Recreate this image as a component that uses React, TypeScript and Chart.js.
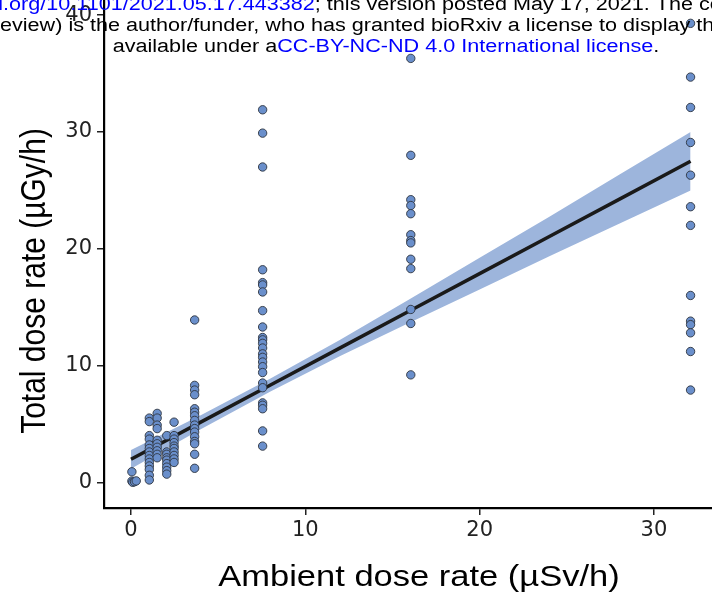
import React, { useEffect, useRef } from "react";
import { Chart, registerables } from "chart.js";

Chart.register(...registerables);

// ---- axis ticks ----
const xTicks = [0, 10, 20, 30];
const yTicks = [0, 10, 20, 30, 40];
const xTitle = "Ambient dose rate (\u00b5Sv/h)";
const yTitle = "Total dose rate (\u00b5Gy/h)";

// ---- observations (ambient dose rate, total dose rate) ----
const nearZeroX = [0.05, 0.05, 0.1, 0.2, 0.3];
const nearZeroY = [0.9, 0.1, 0.0, 0.05, 0.12];

const siteX = [1.05, 1.5, 2.05, 2.47, 3.65, 7.55, 16.05, 32.1];
const site1Y = [5.5, 5.2, 4.0, 3.7, 3.2, 2.9, 2.6, 2.3, 2.0, 1.7, 1.4, 1.1, 0.6, 0.2];
const site2Y = [5.9, 5.5, 4.9, 4.6, 3.6, 3.3, 3.0, 2.7, 2.4, 2.1];
const site3Y = [4.0, 2.6, 2.4, 2.1, 1.9, 1.6, 1.3, 1.0, 0.7];
const site4Y = [5.15, 4.0, 3.7, 3.4, 3.1, 2.9, 2.6, 2.3, 2.0, 1.7];
const site5Y = [13.9, 8.3, 7.9, 7.5, 6.3, 6.0, 5.7, 5.3, 4.9, 4.6, 4.3, 3.9, 3.5, 3.3, 2.4, 1.2];
const site6Y = [31.9, 29.9, 27.0, 18.2, 17.1, 16.9, 16.3, 14.7, 13.3, 12.4, 12.2, 11.9, 11.5, 11.0, 10.7, 10.3, 9.9, 9.4, 8.5, 8.1, 6.8, 6.6, 6.3, 4.4, 3.1];
const site7Y = [36.3, 28.0, 24.2, 23.7, 23.0, 21.2, 20.7, 20.5, 19.1, 18.3, 14.8, 13.6, 9.2];
const site8Y = [39.3, 34.7, 32.1, 29.1, 26.3, 23.6, 22.0, 16.0, 13.8, 13.5, 12.8, 11.2, 7.9];
const siteY = [site1Y, site2Y, site3Y, site4Y, site5Y, site6Y, site7Y, site8Y];

// ---- linear fit and 95% confidence band ----
const fitX = [0, 4, 8, 12, 16, 20, 24, 28, 32.1];
const fitY = [1.97, 5.15, 8.33, 11.51, 14.69, 17.87, 21.05, 24.23, 27.49];
const upperY = [2.77, 5.75, 8.88, 12.21, 15.69, 19.22, 22.75, 26.33, 29.99];
const lowerY = [1.17, 4.55, 7.78, 10.81, 13.69, 16.52, 19.35, 22.13, 24.99];

// ---- bioRxiv header ----
const header1 = [
  ["bioRxiv preprint doi: ", "#000"],
  ["https://doi.org/10.1101/2021.05.17.443382", "#0000ff"],
  ["; this version posted May 17, 2021. The copyright holder for this preprint", "#000"],
];
const header2 = [
  ["(which was not certified by peer review) is the author/funder, who has granted bioRxiv a license to display the preprint in perpetuity. It is made", "#000"],
];
const header3 = [
  ["available under a", "#000"],
  ["CC-BY-NC-ND 4.0 International license", "#0000ff"],
  [".", "#000"],
];
const header1Anchor = "bioRxiv preprint doi: https://doi";
const header2Anchor = "(which was not certified by peer r";

const SX = 1.15;
const SANS = '"Liberation Sans", Arial, Helvetica, sans-serif';

function segWidth(ctx: CanvasRenderingContext2D, segs: string[][]) {
  let w = 0;
  for (const s of segs) w += ctx.measureText(s[0]).width;
  return w;
}

function drawSegments(ctx: CanvasRenderingContext2D, segs: string[][], startX: number, y: number) {
  ctx.save();
  ctx.scale(SX, 1);
  let x = startX;
  ctx.textAlign = "left";
  ctx.textBaseline = "alphabetic";
  for (const s of segs) {
    ctx.fillStyle = s[1];
    ctx.fillText(s[0], x, y);
    x += ctx.measureText(s[0]).width;
  }
  ctx.restore();
}

const overlayPlugin = {
  id: "overlayText",
  afterDraw(chart: any) {
    const ctx: CanvasRenderingContext2D = chart.ctx;
    ctx.save();
    ctx.fillStyle = "#000";
    ctx.font = `30px ${SANS}`;
    ctx.textAlign = "center";
    ctx.textBaseline = "alphabetic";
    // x title
    ctx.save();
    ctx.translate(419, 586);
    ctx.scale(SX, 1);
    ctx.fillText(xTitle, 0, 0);
    ctx.restore();
    // y title
    ctx.save();
    ctx.translate(45, 281);
    ctx.scale(SX, 1);
    ctx.rotate(-Math.PI / 2);
    ctx.fillText(yTitle, 0, 0);
    ctx.restore();
    // header
    ctx.font = `18.8px ${SANS}`;
    drawSegments(ctx, header1, 3 / SX - ctx.measureText(header1Anchor).width, 9.5);
    drawSegments(ctx, header2, 0 / SX - ctx.measureText(header2Anchor).width, 30.5);
    drawSegments(ctx, header3, 386 / SX - segWidth(ctx, header3) / 2, 51.5);
    ctx.restore();
  },
};

export default function App() {
  const ref = useRef<HTMLCanvasElement | null>(null);

  useEffect(() => {
    if (!ref.current) return;
    const pts: { x: number; y: number }[] = [];
    nearZeroX.forEach((x, i) => pts.push({ x, y: nearZeroY[i] }));
    siteX.forEach((x, i) => siteY[i].forEach((y) => pts.push({ x, y })));

    const tickFont = { family: '"DejaVu Sans", sans-serif', size: 21, lineHeight: 1 };

    const chart = new Chart(ref.current, {
      type: "scatter",
      data: {
        datasets: [
          {
            label: "observations",
            data: pts,
            backgroundColor: "#6a8fcb",
            borderColor: "#2e3440",
            borderWidth: 0.9,
            pointRadius: 4.2,
            order: 0,
          } as any,
          {
            type: "line",
            label: "fit",
            data: fitX.map((x, i) => ({ x, y: fitY[i] })),
            borderColor: "#1a1a1a",
            borderWidth: 3.5,
            pointRadius: 0,
            showLine: true,
            fill: false,
            order: 1,
          } as any,
          {
            type: "line",
            label: "upper",
            data: fitX.map((x, i) => ({ x, y: upperY[i] })),
            borderWidth: 0,
            borderColor: "rgba(0,0,0,0)",
            backgroundColor: "#9db5dc",
            pointRadius: 0,
            showLine: true,
            fill: "+1",
            order: 2,
          } as any,
          {
            type: "line",
            label: "lower",
            data: fitX.map((x, i) => ({ x, y: lowerY[i] })),
            borderWidth: 0,
            borderColor: "rgba(0,0,0,0)",
            pointRadius: 0,
            showLine: true,
            fill: false,
            order: 3,
          } as any,
        ],
      },
      options: {
        responsive: false,
        animation: false,
        devicePixelRatio: 1,
        layout: { padding: 0, autoPadding: false },
        plugins: { legend: { display: false }, tooltip: { enabled: false }, title: { display: false } },
        scales: {
          x: {
            type: "linear",
            min: -1.55,
            max: 33.33,
            afterBuildTicks: (s: any) => {
              s.ticks = xTicks.map((v) => ({ value: v }));
            },
            afterFit: (s: any) => {
              s.height = 93;
              s.paddingLeft = 0;
              s.paddingRight = 0;
            },
            grid: { display: true, drawOnChartArea: false, drawTicks: true, tickLength: 7, color: "#222", lineWidth: 1.5 },
            border: { display: true, color: "#000", width: 2.2 },
            ticks: { color: "#222", font: tickFont, padding: 5, maxRotation: 0 },
          },
          y: {
            type: "linear",
            min: -2.2,
            max: 41.3,
            afterBuildTicks: (s: any) => {
              s.ticks = yTicks.map((v) => ({ value: v }));
            },
            afterFit: (s: any) => {
              s.width = 104;
              s.paddingTop = 0;
              s.paddingBottom = 0;
            },
            grid: { display: true, drawOnChartArea: false, drawTicks: true, tickLength: 7, color: "#222", lineWidth: 1.5 },
            border: { display: true, color: "#000", width: 2.2 },
            ticks: { color: "#222", font: tickFont, padding: 5 },
          },
        },
      },
      plugins: [overlayPlugin],
    } as any);
    return () => chart.destroy();
  }, []);

  return (
    <div style={{ position: "fixed", left: 0, top: 0, width: 712, height: 601, background: "#fff", overflow: "hidden" }}>
      <canvas ref={ref} width={712} height={601} style={{ width: 712, height: 601, display: "block" }} />
    </div>
  );
}
